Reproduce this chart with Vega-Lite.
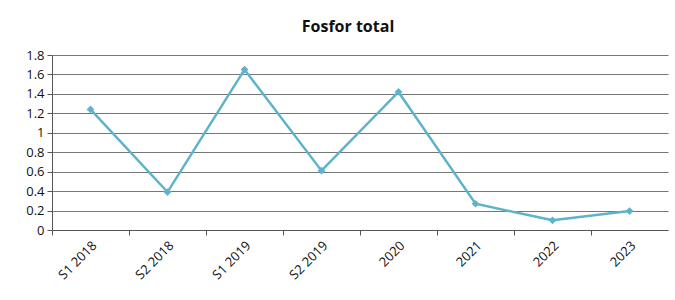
{
  "$schema": "https://vega.github.io/schema/vega-lite/v6.json",
  "width": 616,
  "height": 175,
  "autosize": "none",
  "padding": {"left": 52, "top": 55, "right": 7, "bottom": 70},
  "background": "white",
  "title": {"text": "Fosfor total", "font": "Open Sans", "fontSize": 16, "fontWeight": "bold", "color": "#111", "offset": 14, "dx": -12},
  "config": {"view": {"stroke": null}, "font": "Open Sans"},
  "data": {"values": [
    {"period": "S1 2018", "value": 1.24},
    {"period": "S2 2018", "value": 0.39},
    {"period": "S1 2019", "value": 1.65},
    {"period": "S2 2019", "value": 0.61},
    {"period": "2020", "value": 1.42},
    {"period": "2021", "value": 0.27},
    {"period": "2022", "value": 0.10},
    {"period": "2023", "value": 0.195}
  ]},
  "encoding": {
    "x": {"field": "period", "type": "nominal", "sort": null,
      "scale": {"type": "band", "paddingInner": 0, "paddingOuter": 0},
      "axis": {"title": null, "labelAngle": -45, "labelFontSize": 13, "labelColor": "#111", "domainColor": "#555", "tickColor": "#555", "tickSize": 5, "bandPosition": 0, "labelPadding": 4, "grid": false}},
    "y": {"field": "value", "type": "quantitative",
      "scale": {"domain": [0, 1.8], "nice": false, "zero": true},
      "axis": {"title": null, "values": [0, 0.2, 0.4, 0.6, 0.8, 1, 1.2, 1.4, 1.6, 1.8], "labelExpr": "datum.value", "labelFontSize": 13, "labelColor": "#111", "gridColor": "#777", "gridOpacity": 1, "domainColor": "#555", "tickColor": "#555", "tickSize": 5, "labelPadding": 3}}
  },
  "layer": [
    {"mark": {"type": "line", "color": "#5db3c9", "strokeWidth": 2.5}},
    {"mark": {"type": "point", "shape": "diamond", "filled": true, "color": "#5db3c9", "size": 60, "opacity": 1}}
  ]
}
